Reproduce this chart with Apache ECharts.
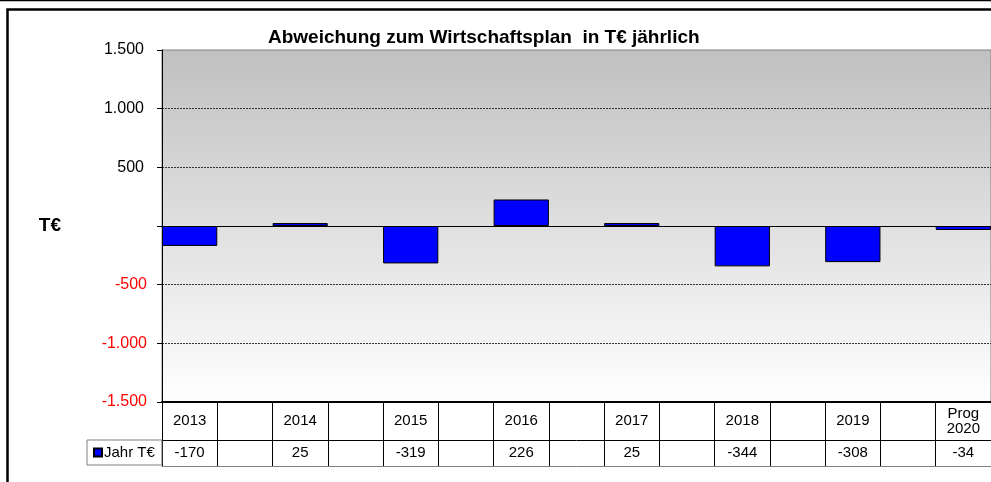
<!DOCTYPE html>
<html>
<head>
<meta charset="utf-8">
<script src="https://cdn.jsdelivr.net/npm/echarts@6/dist/echarts.min.js"></script>
<style>
  html, body { margin: 0; padding: 0; background: #fff; }
  #chart { width: 991px; height: 482px; }
</style>
</head>
<body>
<div id="chart"></div>
<script>
// Jahre (Tabellenkopf) und Abweichungen in T€
const years = ['2013', '2014', '2015', '2016', '2017', '2018', '2019', 'Prog\n2020'];
const values = [-170, 25, -319, 226, 25, -344, -308, -34];
const seriesName = 'Jahr T€';
const yMin = -1500;
const yMax = 1500;
const yStep = 500;

// zwischen den Jahren liegt jeweils eine leere Spalte
const slots = [];
const slotValues = [];
const slotTexts = [];
years.forEach((y, i) => {
    slots.push(y);
    slotValues.push(values[i]);
    slotTexts.push(String(values[i]));
    if (i < years.length - 1) {
        slots.push('');
        slotValues.push(null);
        slotTexts.push('');
    }
});

const font = 'Arial, "Liberation Sans", sans-serif';

const chart = echarts.init(document.getElementById('chart'));

const option = {
    animation: false,
    textStyle: { fontFamily: font },
    title: {
        text: 'Abweichung zum Wirtschaftsplan  in T€ jährlich',
        left: 268,
        top: 28,
        padding: 0,
        textStyle: { fontFamily: font, fontSize: 19, fontWeight: 'bold', color: '#000' }
    },
    legend: {
        data: [seriesName],
        left: 87,
        top: 440,
        padding: [5, 7, 5, 6],
        itemWidth: 8,
        itemHeight: 8,
        icon: 'rect',
        borderColor: '#808080',
        borderWidth: 1,
        textStyle: { fontFamily: font, fontSize: 15, color: '#000', padding: [0, 0, 0, -3] }
    },
    grid: {
        left: 162,
        top: 50,
        right: -2,
        height: 352,
        show: true,
        borderColor: '#808080',
        borderWidth: 1,
        backgroundColor: new echarts.graphic.LinearGradient(0, 0, 0, 1, [
            { offset: 0, color: '#c0c0c0' },
            { offset: 1, color: '#ffffff' }
        ])
    },
    xAxis: [
        {
            type: 'category',
            data: slots,
            position: 'bottom',
            axisLine: { onZero: false, lineStyle: { color: '#000', width: 2 } },
            axisTick: { show: true, interval: 0, length: 38, lineStyle: { color: '#000' } },
            axisLabel: {
                interval: 0,
                margin: 19,
                verticalAlign: 'middle',
                lineHeight: 15,
                fontSize: 15,
                color: '#000',
                fontFamily: font
            },
            splitLine: { show: false }
        },
        {
            type: 'category',
            data: slotTexts,
            position: 'bottom',
            offset: 38,
            axisLine: { onZero: false, lineStyle: { color: '#000', width: 1 } },
            axisTick: { show: true, interval: 0, length: 26, lineStyle: { color: '#000' } },
            axisLabel: {
                interval: 0,
                margin: 13,
                verticalAlign: 'middle',
                fontSize: 15,
                color: '#000',
                fontFamily: font
            },
            splitLine: { show: false }
        },
        {
            type: 'category',
            data: slots,
            position: 'bottom',
            offset: 64,
            axisLine: { onZero: false, lineStyle: { color: '#808080', width: 1 } },
            axisTick: { show: false },
            axisLabel: { show: false },
            splitLine: { show: false }
        }
    ],
    yAxis: {
        type: 'value',
        min: yMin,
        max: yMax,
        interval: yStep,
        name: 'T€',
        nameLocation: 'middle',
        nameRotate: 0,
        nameGap: 101,
        nameTextStyle: { fontFamily: font, fontSize: 19, fontWeight: 'bold', color: '#000', padding: [6, 0, 0, 0] },
        axisLine: { show: true, lineStyle: { color: '#000', width: 1 } },
        axisTick: { show: true, length: 5, lineStyle: { color: '#000' } },
        axisLabel: {
            margin: 15,
            fontSize: 16,
            fontFamily: font,
            // positive Werte wie im Excel-Format mit Leerraum rechts
            formatter: v => {
                if (v === 0) return '';
                const s = Math.abs(v).toString().replace(/\B(?=(\d{3})+(?!\d))/g, '.');
                return v < 0 ? '{neg|-' + s + '}' : '{pos|' + s + '}';
            },
            rich: {
                pos: { color: '#000', fontSize: 16, fontFamily: font, padding: [0, 3, 0, 0] },
                neg: { color: '#ff0000', fontSize: 16, fontFamily: font }
            }
        },
        splitLine: {
            show: true,
            showMinLine: false,
            showMaxLine: false,
            lineStyle: { color: '#333', type: [2, 1], width: 1 }
        }
    },
    series: [
        {
            name: seriesName,
            type: 'bar',
            data: slotValues,
            barCategoryGap: '0%',
            itemStyle: { color: '#0000ff', borderColor: '#000', borderWidth: 1 },
            markLine: {
                silent: true,
                symbol: 'none',
                label: { show: false },
                lineStyle: { color: '#000', type: 'solid', width: 1 },
                data: [{ yAxis: 0 }]
            }
        }
    ],
    graphic: [
        {
            type: 'line',
            shape: { x1: 0, y1: 0.5, x2: 991, y2: 0.5 },
            style: { stroke: '#000', lineWidth: 1.5 }
        },
        {
            type: 'rect',
            shape: { x: 7.5, y: 9.5, width: 1100, height: 600 },
            style: { fill: null, stroke: '#000', lineWidth: 2.5 }
        }
    ]
};

chart.setOption(option);
</script>
</body>
</html>
